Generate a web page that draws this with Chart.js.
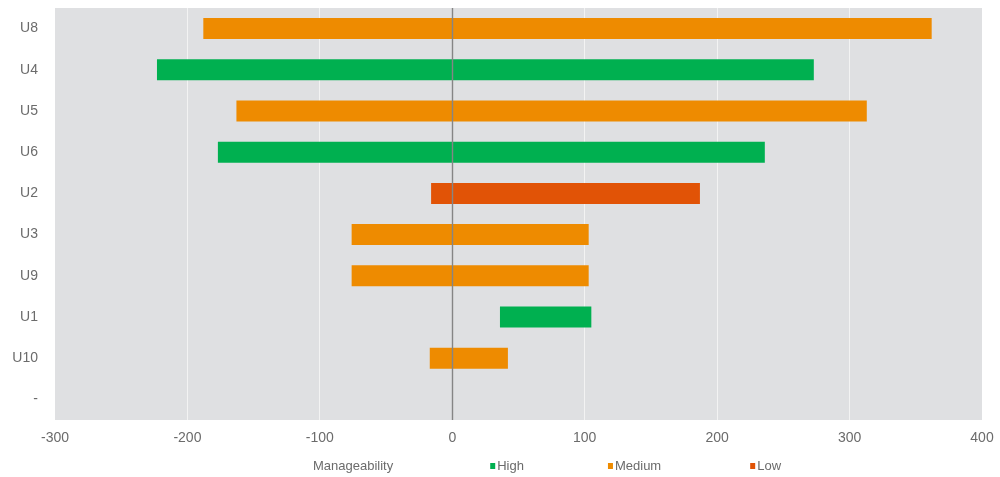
<!DOCTYPE html>
<html>
<head>
<meta charset="utf-8">
<script src="https://cdn.jsdelivr.net/npm/chart.js@4"></script>
<style>
  html, body { margin: 0; padding: 0; background: #fff; }
  #wrap { width: 1000px; height: 477px; }
</style>
</head>
<body>
<div id="wrap"><canvas id="myChart"></canvas></div>
<script>
// Kategorien von oben nach unten
var categories = ['U8', 'U4', 'U5', 'U6', 'U2', 'U3', 'U9', 'U1', 'U10', '-'];
var lowEnd = [-188, -223, -163, -177, -16, -76, -76, 36, -17, null];
var highEnd = [362, 273, 313, 236, 187, 103, 103, 105, 42, null];
var level = ['Medium', 'High', 'Medium', 'High', 'Low', 'Medium', 'Medium', 'High', 'Medium', null];
var levels = ['High', 'Medium', 'Low'];
var levelColors = { High: '#00b050', Medium: '#ee8b00', Low: '#e15306' };
var legendTitle = 'Manageability';
var xTicks = [-300, -200, -100, 0, 100, 200, 300, 400];

var font = "'Liberation Sans', Arial, sans-serif";
var textColor = '#6b6b6b';

// ein Dataset pro Stufe, damit die Legende passt
var datasets = levels.map(function (lvl) {
    return {
        label: lvl,
        data: categories.map(function (c, i) {
            return level[i] === lvl ? [lowEnd[i], highEnd[i]] : null;
        }),
        backgroundColor: levelColors[lvl],
        borderWidth: 0,
        grouped: false,
        categoryPercentage: 1,
        barPercentage: 0.51
    };
});

// grauer Hintergrund im Diagrammbereich
var plotBackground = {
    id: 'plotBackground',
    beforeDraw: function (chart) {
        var a = chart.chartArea;
        var ctx = chart.ctx;
        ctx.save();
        ctx.fillStyle = '#dfe0e2';
        ctx.fillRect(a.left, a.top, a.right - a.left, a.bottom - a.top);
        ctx.restore();
    }
};

// Nulllinie über den Balken
var zeroLine = {
    id: 'zeroLine',
    afterDatasetsDraw: function (chart) {
        var a = chart.chartArea;
        var x = Math.round(chart.scales.x.getPixelForValue(0)) + 0.5;
        var ctx = chart.ctx;
        ctx.save();
        ctx.strokeStyle = '#858585';
        ctx.lineWidth = 1.4;
        ctx.beginPath();
        ctx.moveTo(x, a.top);
        ctx.lineTo(x, a.bottom);
        ctx.stroke();
        ctx.restore();
    }
};

// Legende unten: Titel + kleine Quadrate
var legendGaps = [97, 84, 89];
var bottomLegend = {
    id: 'bottomLegend',
    afterDraw: function (chart) {
        var ctx = chart.ctx;
        var y = 466;
        var x = 313;
        ctx.save();
        ctx.font = '13px ' + font;
        ctx.fillStyle = textColor;
        ctx.textBaseline = 'middle';
        ctx.fillText(legendTitle, x, y);
        x += ctx.measureText(legendTitle).width + legendGaps[0];
        levels.forEach(function (lvl, i) {
            ctx.fillStyle = levelColors[lvl];
            ctx.fillRect(x, y - 3, 5, 6);
            ctx.fillStyle = textColor;
            ctx.fillText(lvl, x + 7, y);
            x += 7 + ctx.measureText(lvl).width + (legendGaps[i + 1] || 0);
        });
        ctx.restore();
    }
};

var canvas = document.getElementById('myChart');
var myChart = new Chart(canvas, {
    type: 'bar',
    data: {
        labels: categories,
        datasets: datasets
    },
    options: {
        indexAxis: 'y',
        responsive: true,
        maintainAspectRatio: false,
        animation: false,
        layout: {
            padding: { top: 8, right: 18, bottom: 33, left: 0 }
        },
        scales: {
            x: {
                min: -300,
                max: 400,
                afterBuildTicks: function (scale) {
                    scale.ticks = xTicks.map(function (v) { return { value: v }; });
                },
                afterFit: function (scale) {
                    scale.height = 24;
                    scale.paddingLeft = 0;
                    scale.paddingRight = 0;
                },
                border: { display: false },
                grid: {
                    drawTicks: false,
                    lineWidth: 1,
                    color: function (ctx) {
                        var v = ctx.tick ? ctx.tick.value : null;
                        if (v === 0 || v === -300 || v === 400) return 'rgba(0,0,0,0)';
                        return '#f3f3f3';
                    }
                },
                ticks: {
                    padding: 10,
                    color: textColor,
                    font: { family: font, size: 14 }
                }
            },
            y: {
                afterFit: function (scale) {
                    scale.width = 55;
                    scale.paddingTop = 0;
                    scale.paddingBottom = 0;
                },
                border: { display: false },
                grid: { display: false, drawTicks: false },
                ticks: {
                    padding: 17,
                    color: textColor,
                    font: { family: font, size: 14 }
                }
            }
        },
        plugins: {
            legend: { display: false },
            tooltip: { enabled: false }
        }
    },
    plugins: [plotBackground, zeroLine, bottomLegend]
});
</script>
</body>
</html>
